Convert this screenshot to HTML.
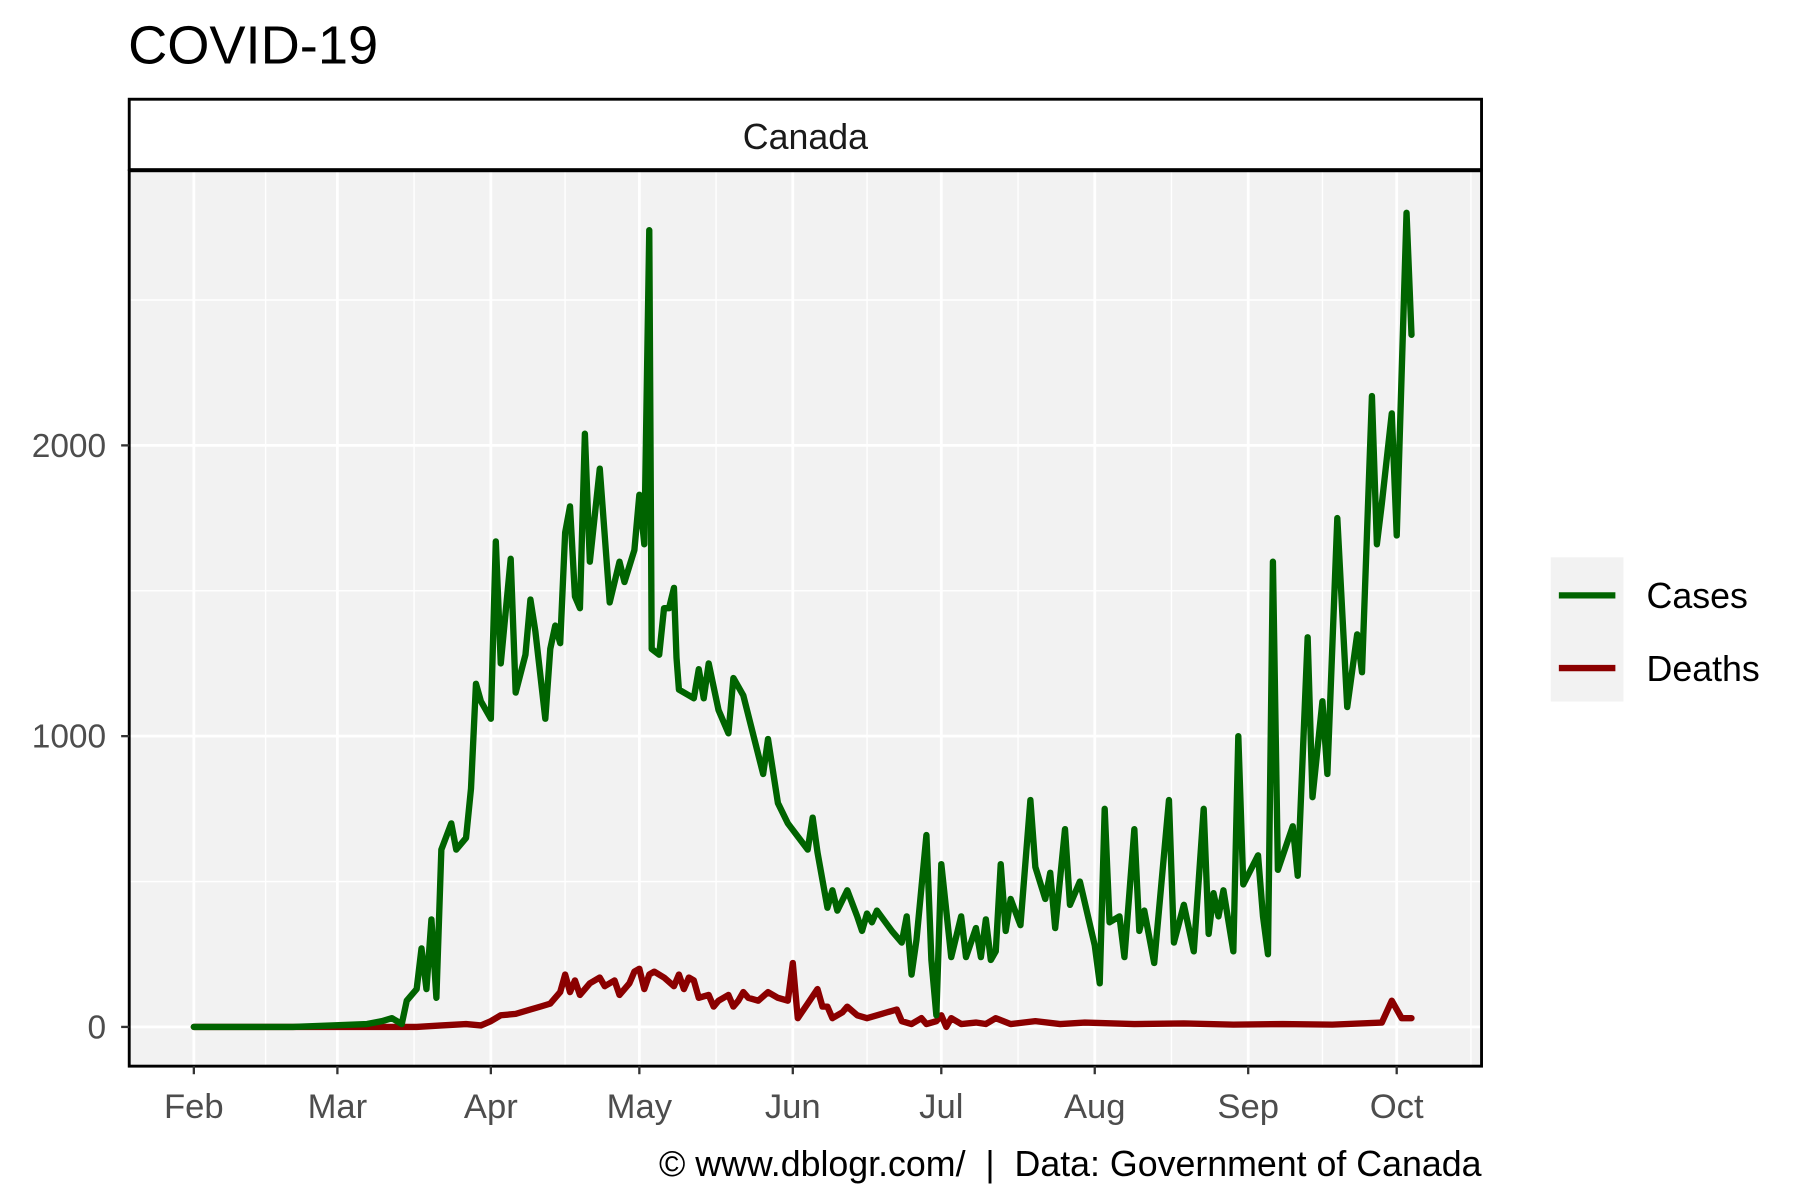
<!DOCTYPE html>
<html><head><meta charset="utf-8"><style>
html,body{margin:0;padding:0;background:#fff}
svg{display:block;font-family:"Liberation Sans",Arial,sans-serif}
</style></head><body>
<svg id="chart" width="1800" height="1200" viewBox="0 0 1560 1040" xmlns="http://www.w3.org/2000/svg">
<rect width="1560" height="1040" fill="#fff"/>
<text x="111" y="55" font-size="47" fill="#000">COVID-19</text>
<rect x="112" y="86" width="1172" height="61" fill="#fff" stroke="#000" stroke-width="2.5"/>
<text x="698" y="129" font-size="31" text-anchor="middle" fill="#1a1a1a">Canada</text>
<rect x="112" y="148" width="1172" height="776" fill="#f2f2f2"/>
<g id="grid"></g>
<g id="series"></g>
<rect x="112" y="148" width="1172" height="776" fill="none" stroke="#000" stroke-width="2.5"/>
<g id="axes"></g>
<g>
<rect x="1344" y="483" width="63" height="125" fill="#f2f2f2"/>
<line x1="1351" x2="1400" y1="516" y2="516" stroke="#006400" stroke-width="5.5"/>
<line x1="1351" x2="1400" y1="579" y2="579" stroke="#8b0000" stroke-width="5.5"/>
<text x="1427" y="527" font-size="31">Cases</text>
<text x="1427" y="590" font-size="31">Deaths</text>
</g>
<text x="1284" y="1019" font-size="31" text-anchor="end" xml:space="preserve" style="white-space:pre">© www.dblogr.com/  |  Data: Government of Canada</text>
</svg>
<script>
// days since Feb 1, 2020
const caseDays = [0,10,20,28,35,38,40,42,43,45,46,47,48,49,50,52,53,55,56,57,58,60,61,62,64,65,67,68,69,71,72,73,74,75,76,77,78,79,80,82,84,86,87,89,90,91,92,92.5,94,95,96,97,97.5,98,100,101,102,103,104,106,108,109,111,115,116,118,120,124,125,126,128,129,130,132,134,135,136,137,138,141,143,144,145,146,148,149,150,151,153,155,156,158,159,160,161,162,163,164,165,167,169,170,172,173,174,176,177,179,182,183,184,185,187,188,190,191,192,194,197,198,200,202,204,205,206,207,208,210,211,212,215,216,217,218,219,222,223,225,226,228,229,231,233,235,236,238,239,240,242,243,245,246];
const caseValues = [0,0,0,5,10,20,30,10,90,130,270,130,370,100,610,700,610,650,820,1180,1120,1060,1670,1250,1610,1150,1280,1470,1360,1060,1300,1380,1320,1700,1790,1480,1440,2040,1600,1920,1460,1600,1530,1640,1830,1660,2740,1300,1280,1440,1440,1510,1270,1160,1140,1130,1230,1130,1250,1090,1010,1200,1140,870,990,770,700,610,720,600,410,470,400,470,380,330,390,360,400,330,290,380,180,300,660,230,40,560,240,380,240,340,240,370,230,260,560,330,440,350,780,550,440,530,340,680,420,500,280,150,750,360,380,240,680,330,400,220,780,290,420,260,750,320,460,380,470,260,1000,490,590,380,250,1600,540,690,520,1340,790,1120,870,1750,1100,1350,1220,2170,1660,1800,2110,1690,2800,2380];
const deathDays = [0,20,45,50,55,58,60,62,65,68,70,72,74,75,76,77,78,80,82,83,85,86,88,89,90,91,92,93,95,97,98,99,100,101,102,104,105,106,108,109,110,111,112,114,116,118,120,121,122,124,126,127,128,129,131,132,134,136,138,140,142,143,145,147,148,150,151,152,153,155,158,160,162,165,170,175,180,190,200,210,220,230,240,242,244,246];
const deathValues = [0,0,0,5,10,5,20,40,45,60,70,80,120,180,120,160,110,150,170,140,160,110,150,190,200,130,180,190,170,140,180,130,170,160,100,110,70,90,110,70,90,120,100,90,120,100,90,220,30,80,130,70,70,30,50,70,40,30,40,50,60,20,10,30,10,20,40,0,30,10,15,10,30,10,20,10,15,10,12,8,10,8,15,90,30,30];
const monthLabels = ["Feb","Mar","Apr","May","Jun","Jul","Aug","Sep","Oct"];
const monthDays = [0,29,60,90,121,151,182,213,243];
const yTicks = [0,1000,2000];
const yMinor = [500,1500,2500];

const NS="http://www.w3.org/2000/svg";
const xS = d => 168 + d*4.29;
const yS = v => 890 - v*0.252;
function mk(tag, attrs, parent){const e=document.createElementNS(NS,tag);for(const k in attrs)e.setAttribute(k,attrs[k]);parent.appendChild(e);return e;}
const grid=document.getElementById('grid'), series=document.getElementById('series'), axes=document.getElementById('axes');
yMinor.forEach(v=>{const l=mk('line',{x1:112,x2:1284,y1:yS(v),y2:yS(v),stroke:'#fff','stroke-width':1.2},grid);

});
for(let i=0;i<monthDays.length;i++){
  const m = i<monthDays.length-1 ? (monthDays[i]+monthDays[i+1])/2 : monthDays[i]+15;
  const l=mk('line',{x1:xS(m),x2:xS(m),y1:148,y2:924,stroke:'#fff','stroke-width':1.2},grid);
  
  
}
{const l=mk('line',{x1:xS(-15),x2:xS(-15),y1:148,y2:924,stroke:'#fff','stroke-width':1.2},grid);

}
yTicks.forEach(v=>{const l=mk('line',{x1:112,x2:1284,y1:yS(v),y2:yS(v),stroke:'#fff','stroke-width':2.4},grid);


const t=mk('line',{x1:105,x2:112,y1:yS(v),y2:yS(v),stroke:'#333','stroke-width':2},axes);


const tx=mk('text',{x:92,y:yS(v)+10,'font-size':29,'text-anchor':'end',fill:'#4d4d4d'},axes);tx.textContent=v;

});
monthDays.forEach((d,i)=>{const l=mk('line',{x1:xS(d),x2:xS(d),y1:148,y2:924,stroke:'#fff','stroke-width':2.4},grid);


const t=mk('line',{x1:xS(d),x2:xS(d),y1:924,y2:931,stroke:'#333','stroke-width':2},axes);


const tx=mk('text',{x:xS(d),y:969,'font-size':30,'text-anchor':'middle',fill:'#4d4d4d'},axes);tx.textContent=monthLabels[i];

});
function path(days, vals, color, name){
  const d=days.map((x,i)=>(i?'L':'M')+xS(x).toFixed(1)+','+yS(vals[i]).toFixed(1)).join(' ');
  const p=mk('path',{d:d,fill:'none',stroke:color,'stroke-width':5.5,'stroke-linejoin':'round','stroke-linecap':'round'},series);
  
  
}
path(deathDays, deathValues, '#8b0000', 'deaths-line');
path(caseDays, caseValues, '#006400', 'cases-line');
</script>
</body></html>
